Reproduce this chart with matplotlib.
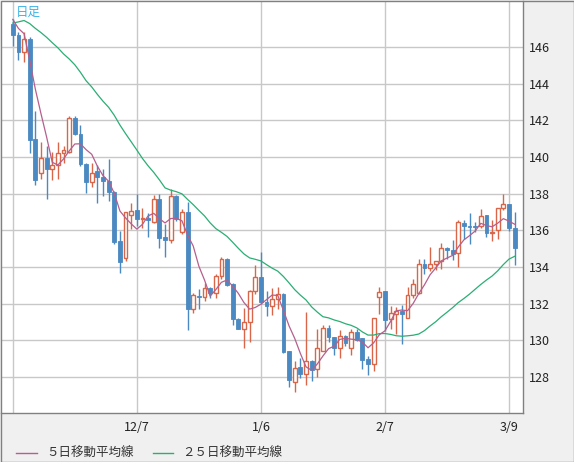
import numpy as np
import pandas as pd
import matplotlib
matplotlib.use('Agg')
import matplotlib.pyplot as plt
from matplotlib.lines import Line2D
from matplotlib.patches import Rectangle

plt.rcParams['font.family'] = ['Noto Sans CJK JP', 'DejaVu Sans']

# Daily candles, 2022/11/7 .. 2023/3/10 (weekdays)
opens = [
    147.25, 146.67, 145.73, 146.45, 141.00, 139.11, 139.95, 139.35, 139.55, 140.22,
    140.27, 142.13, 141.25, 139.62, 138.64, 139.25, 138.91, 138.70, 138.10, 135.42,
    134.51, 136.82, 137.09, 136.60, 136.66, 136.47, 137.69, 135.64, 135.47, 137.87,
    135.90, 137.00, 131.73, 132.42, 132.38, 132.87, 132.60, 133.51, 134.45, 133.05,
    131.18, 130.64, 131.00, 132.67, 133.45, 132.07, 131.85, 132.25, 132.55, 129.40,
    127.73, 128.53, 128.16, 128.89, 128.44, 129.44, 130.67, 130.18, 129.58, 130.25,
    129.58, 130.45, 130.10, 128.95, 128.71, 132.36, 132.69, 131.15, 131.42, 131.58,
    131.24, 132.45, 132.60, 134.18, 133.96, 134.18, 134.33, 135.05, 134.93, 134.75,
    136.42, 136.24, 136.24, 136.24, 136.82, 135.87, 136.02, 137.20, 137.42, 136.15,
]
highs = [
    147.55, 146.80, 146.82, 146.55, 142.53, 140.82, 140.60, 140.27, 140.80, 140.58,
    142.25, 142.25, 141.76, 139.65, 139.67, 139.58, 139.36, 139.91, 138.15, 135.96,
    137.00, 137.47, 137.96, 137.24, 136.96, 137.93, 138.00, 136.33, 138.24, 137.95,
    137.18, 137.55, 132.60, 132.78, 133.10, 132.90, 133.60, 134.56, 134.50, 133.10,
    131.20, 131.76, 132.75, 134.13, 134.80, 132.67, 132.85, 132.90, 132.60, 129.40,
    128.85, 129.04, 131.53, 128.90, 130.60, 130.85, 130.85, 130.20, 130.58, 130.30,
    130.60, 130.60, 130.10, 129.13, 131.22, 132.90, 132.70, 131.87, 131.84, 131.91,
    132.93, 133.33, 134.42, 134.42, 135.10, 134.30, 135.29, 135.10, 135.47, 136.56,
    136.56, 136.96, 136.45, 137.15, 136.85, 136.58, 137.20, 137.96, 137.45, 137.00,
]
lows = [
    146.04, 145.31, 145.18, 140.22, 138.45, 138.82, 137.71, 138.73, 138.82, 139.67,
    140.20, 141.20, 139.50, 138.04, 138.35, 137.49, 137.85, 137.58, 135.25, 133.65,
    134.33, 136.05, 136.24, 136.15, 135.65, 136.42, 135.05, 134.56, 135.33, 136.50,
    135.78, 130.56, 131.50, 131.70, 132.15, 132.33, 132.33, 133.33, 132.95, 130.82,
    130.60, 129.55, 129.93, 132.50, 132.00, 131.31, 131.35, 131.70, 129.30, 127.44,
    127.20, 127.95, 127.55, 127.80, 128.00, 129.40, 129.90, 129.20, 129.04, 129.70,
    129.20, 129.95, 128.44, 128.13, 128.30, 131.45, 130.51, 130.60, 130.33, 129.78,
    131.20, 132.30, 132.50, 133.60, 133.80, 133.85, 133.90, 134.42, 134.38, 134.02,
    135.50, 135.24, 135.90, 136.10, 135.65, 135.40, 135.55, 137.10, 135.95, 134.09,
]
closes = [
    146.64, 145.73, 146.45, 140.95, 138.73, 139.95, 139.35, 139.56, 140.22, 140.38,
    142.13, 141.25, 139.62, 138.62, 139.11, 138.89, 138.67, 138.07, 135.36, 134.27,
    137.00, 137.05, 136.64, 136.66, 136.58, 137.69, 135.60, 135.47, 137.87, 136.64,
    137.00, 131.73, 132.45, 132.38, 132.87, 132.60, 133.51, 134.45, 133.00, 131.18,
    130.64, 131.00, 132.67, 133.45, 132.07, 131.89, 132.25, 132.55, 129.35, 127.85,
    128.49, 128.16, 128.89, 128.40, 129.58, 130.67, 130.16, 129.58, 130.25, 129.85,
    130.45, 130.04, 128.90, 128.70, 131.22, 132.64, 131.11, 131.47, 131.60, 131.42,
    132.45, 133.09, 134.18, 133.96, 134.18, 134.30, 135.05, 134.93, 134.69, 136.47,
    136.24, 136.20, 136.20, 136.78, 135.87, 135.90, 137.20, 137.42, 136.11, 135.02,
]
# closes of the 24 sessions before the first candle (feed the moving averages)
prior_closes = [
    144.1, 144.6, 145.1, 145.3, 145.7, 145.8, 146.9, 147.2, 148.7, 149.0,
    149.2, 149.9, 150.1, 147.6, 149.0, 148.0, 146.4, 146.3, 147.5, 148.7,
    148.2, 147.9, 148.2, 146.6,
]
date_ticks = [22, 44, 66, 88]
date_labels = ['12/7', '1/6', '2/7', '3/9']
y_ticks = [128, 130, 132, 134, 136, 138, 140, 142, 144, 146]

UP = '#da6649'
DOWN = '#4a89c1'
MA5_C = '#b55f8d'
MA25_C = '#2aae74'
GRID = '#c8c8c8'
FRAME = '#808080'

n_prior = len(prior_closes)
all_close = pd.Series(prior_closes + closes)
ma5 = all_close.rolling(5).mean().values[n_prior:]
ma25 = all_close.rolling(25).mean().values[n_prior:]

o = np.array(opens)
h = np.array(highs)
l = np.array(lows)
c = np.array(closes)
x = np.arange(len(c))
up = c >= o

fig = plt.figure(figsize=(5.74, 4.62), dpi=100, facecolor='#f0f0f0')
ax = fig.add_axes([1 / 574, 1 - 413 / 462, 522 / 574, 412 / 462])
ax.set_facecolor('white')

# grid
for v in y_ticks:
    ax.axhline(v, color=GRID, lw=1.0, zorder=0)
for v in [0] + date_ticks:
    ax.axvline(v, color=GRID, lw=1.0, zorder=0)

# wicks
ax.vlines(x[up], l[up], h[up], color=UP, lw=1.0, zorder=2)
ax.vlines(x[~up], l[~up], h[~up], color=DOWN, lw=1.0, zorder=2)

# bodies
w = 0.68
body_lo = np.minimum(o, c)
body_h = np.maximum(np.abs(c - o), 0.04)
ax.bar(x[up], body_h[up], bottom=body_lo[up], width=w, facecolor='white',
       edgecolor=UP, linewidth=1.0, zorder=3)
ax.bar(x[~up], body_h[~up], bottom=body_lo[~up], width=w, facecolor=DOWN,
       edgecolor=DOWN, linewidth=0.6, zorder=3)

# moving averages
ax.plot(x, ma25, color=MA25_C, lw=0.9, zorder=4)
ax.plot(x, ma5, color=MA5_C, lw=0.9, zorder=4)

ax.set_xlim(-2.09, 90.48)
ax.set_ylim(126.03, 148.51)
ax.set_xticks(date_ticks)
ax.set_xticklabels(date_labels)
ax.set_yticks(y_ticks)
ax.set_yticklabels([str(v) for v in y_ticks])
ax.yaxis.tick_right()
ax.tick_params(axis='both', length=0, labelsize=9, colors='#222222')
ax.tick_params(axis='x', pad=6)
ax.tick_params(axis='y', pad=4)
for side in ['top', 'left']:
    ax.spines[side].set_visible(False)
for side in ['right', 'bottom']:
    ax.spines[side].set_color(FRAME)
    ax.spines[side].set_linewidth(1.0)

ax.text(0.029, 0.988, '日足', transform=ax.transAxes, color='#3cb4e6',
        fontsize=9, ha='left', va='top')

# legend at the bottom
ly = 1 - 453 / 462
fig.add_artist(Line2D([16 / 574, 37 / 574], [ly, ly], color=MA5_C, lw=1.0))
fig.text(46 / 574, ly, '５日移動平均線', fontsize=9, color='#333333', va='center')
fig.add_artist(Line2D([153 / 574, 173 / 574], [ly, ly], color=MA25_C, lw=1.0))
fig.text(182 / 574, ly, '２５日移動平均線', fontsize=9, color='#333333', va='center')

# outer frame
fig.add_artist(Rectangle((0.5 / 574, 0.5 / 462), 573 / 574, 461 / 462,
                         transform=fig.transFigure, fill=False,
                         edgecolor=FRAME, lw=1.0))

fig.savefig('out.png', dpi=100, facecolor=fig.get_facecolor())
